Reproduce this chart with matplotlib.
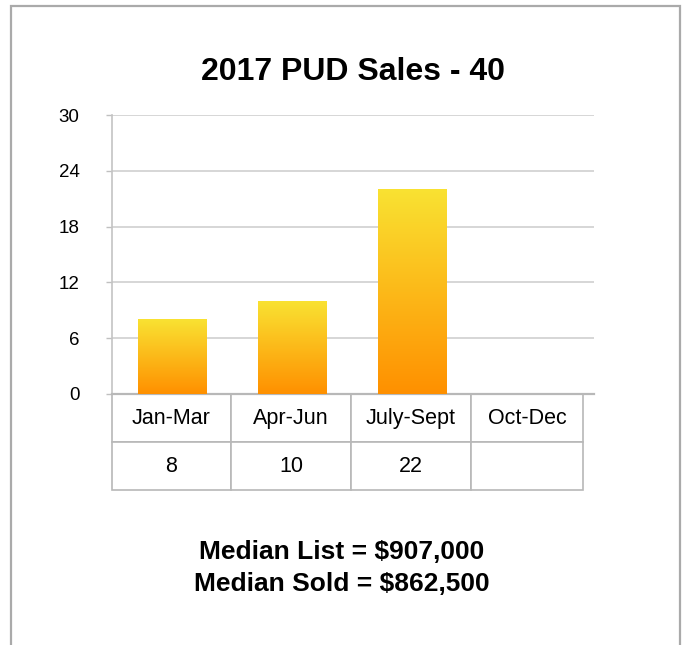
import numpy as np
import matplotlib
matplotlib.use("Agg")
import matplotlib.pyplot as plt
from matplotlib.colors import LinearSegmentedColormap
from matplotlib.patches import Rectangle

# Dati del grafico
categories = ["Jan-Mar", "Apr-Jun", "July-Sept", "Oct-Dec"]
sales = [8, 10, 22, 0]
sales_labels = ["8", "10", "22", ""]
y_ticks = [0, 6, 12, 18, 24, 30]
title = "2017 PUD Sales - 40"
footer = "Median List = $907,000\nMedian Sold = $862,500"

W, H = 686, 645
plt.rcParams['font.family'] = ['Liberation Sans', 'DejaVu Sans']

fig = plt.figure(figsize=(W / 100, H / 100), dpi=100)

# Cornice esterna grigia
fig.patches.append(Rectangle((11 / W, -0.05), (680 - 11) / W, 1.05 - 6 / H,
                             transform=fig.transFigure, fill=False,
                             edgecolor='#aaaaaa', linewidth=1.6))

# Area del grafico in pixel
left, right, top, bottom = 112, 594, 115, 394
ax = fig.add_axes([left / W, (H - bottom) / H, (right - left) / W, (bottom - top) / H])

x = np.arange(len(categories))
bar_w = 0.567
bars = ax.bar(x, sales, width=bar_w, color='none', edgecolor='none', zorder=3)

# Gradiente giallo -> arancione per ogni barra
cmap = LinearSegmentedColormap.from_list('gold', ['#ff9000', '#f9e232'])
grad = np.linspace(0, 1, 256).reshape(-1, 1)
for b in bars:
    h = b.get_height()
    if h <= 0:
        continue
    x0 = b.get_x()
    ax.imshow(grad, cmap=cmap, origin='lower', aspect='auto',
              extent=[x0, x0 + b.get_width(), 0, h], zorder=3)

ax.set_xlim(-0.5, 3.5 + 2 / 120)
ax.set_ylim(0, 30)
ax.set_yticks(y_ticks)
ax.set_yticklabels([str(t) for t in y_ticks], fontsize=13.5)
ax.tick_params(axis='y', length=4.3, width=1.0, color='#c0c0c0', pad=19)
ax.tick_params(axis='x', bottom=False, labelbottom=False)
ax.grid(axis='y', color='#cbcbcb', linewidth=1.1, zorder=0)
ax.set_axisbelow(True)
for s in ['top', 'right']:
    ax.spines[s].set_visible(False)
ax.spines['left'].set_color('#c4c4c4')
ax.spines['left'].set_linewidth(1.2)
ax.spines['bottom'].set_color('#b8b8b8')
ax.spines['bottom'].set_linewidth(1.6)

# Tabella sotto il grafico
plot_w = right - left
plot_h = bottom - top
col_px = [119, 120, 120, 112]
tbl = ax.table(cellText=[categories, sales_labels], cellLoc='center',
               colWidths=[c / sum(col_px) for c in col_px],
               bbox=[0, -96 / plot_h, sum(col_px) / plot_w, 96 / plot_h])
tbl.auto_set_font_size(False)
tbl.set_fontsize(15.5)
for cell in tbl.get_celld().values():
    cell.set_edgecolor('#b8b8b8')
    cell.set_linewidth(1.2)

fig.text(353 / W, 1 - 72 / H, title, ha='center', va='center',
         fontsize=23, fontweight='bold')
fig.text(342 / W, 1 - 568 / H, footer, ha='center', va='center',
         fontsize=19, fontweight='bold', linespacing=1.38)

fig.savefig("out.png", dpi=100)
